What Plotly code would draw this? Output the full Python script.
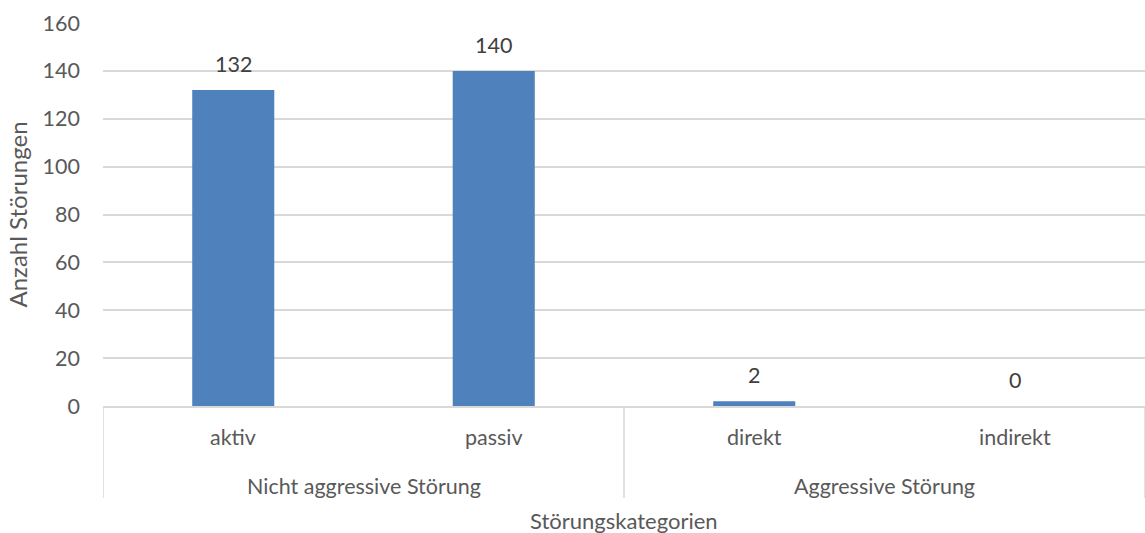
import plotly.graph_objects as go

# Störungen nach Kategorie
groups = ["Nicht aggressive Störung", "Nicht aggressive Störung",
          "Aggressive Störung", "Aggressive Störung"]
subcats = ["aktiv", "passiv", "direkt", "indirekt"]
counts = [132, 140, 2, 0]
y_ticks = [0, 20, 40, 60, 80, 100, 120, 140, 160]

FONT = "Lato"
FS = 21.5
TXT = "#595959"
GRID = "#D9D9D9"
BAR = "#4F81BD"

fig = go.Figure()
fig.add_trace(go.Bar(
    x=subcats, y=counts, marker=dict(color=BAR, line=dict(width=0)),
    width=0.315, hoverinfo="x+y",
))

# Wertbeschriftung über den Balken
for s, v in zip(subcats, counts):
    fig.add_annotation(x=s, y=v, xref="x", yref="y", text=str(v),
                       showarrow=False, yanchor="bottom", yshift=11,
                       font=dict(family=FONT, size=FS, color="#404040"))

fig.update_layout(
    width=1145, height=533,
    margin=dict(l=103, r=0, t=23, b=127),
    paper_bgcolor="white", plot_bgcolor="white",
    showlegend=False,
    font=dict(family=FONT, size=FS, color=TXT),
    xaxis=dict(type="category", categoryorder="array", categoryarray=subcats,
               showticklabels=False, showgrid=False, zeroline=False,
               showline=True, linecolor=GRID, linewidth=1.5,
               range=[-0.5, 3.5]),
    yaxis=dict(range=[0, 160], tickvals=y_ticks, showgrid=True,
               gridcolor=GRID, gridwidth=1.5, zeroline=False, showline=False,
               ticklabelstandoff=22,
               tickfont=dict(family=FONT, size=FS, color=TXT),
               title=dict(text="Anzahl Störungen", standoff=8,
                          font=dict(family=FONT, size=24, color=TXT))),
)

# Untere Achsenbeschriftung: Unterkategorien
for s in subcats:
    fig.add_annotation(x=s, y=-0.08, xref="x", yref="paper", text=s,
                       showarrow=False, yanchor="middle",
                       font=dict(family=FONT, size=FS, color=TXT))

# Gruppenbeschriftung, mittig unter den zugehörigen Kategorien
group_names = list(dict.fromkeys(groups))
for g in group_names:
    idx = [i for i, gg in enumerate(groups) if gg == g]
    center = (idx[0] + idx[-1]) / 2
    fig.add_annotation(x=center, y=-0.21, xref="x", yref="paper", text=g,
                       showarrow=False, yanchor="middle",
                       font=dict(family=FONT, size=FS, color=TXT))

# Trennlinien zwischen den Gruppen
boundaries = [-0.5]
for i in range(1, len(groups)):
    if groups[i] != groups[i - 1]:
        boundaries.append(i - 0.5)
boundaries.append(len(groups) - 0.5)
for b in boundaries:
    fig.add_shape(type="line", x0=b, x1=b, xref="x", y0=0, y1=-0.24,
                  yref="paper", line=dict(color=GRID, width=1.5))

# Achsentitel
fig.add_annotation(x=0.5, y=-0.298, xref="paper", yref="paper",
                   text="Störungskategorien", showarrow=False,
                   yanchor="middle",
                   font=dict(family=FONT, size=22, color=TXT))

fig.write_html("out.html")
